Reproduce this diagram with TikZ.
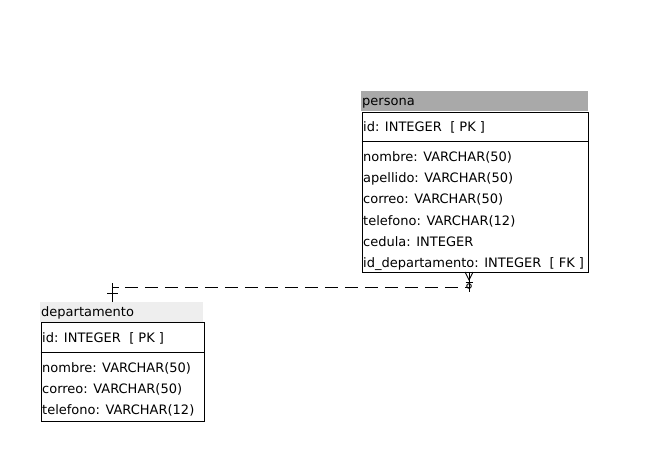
\documentclass[tikz,border=0pt]{standalone}
\usepackage{fontspec}
\setmainfont{DejaVu Sans}
\definecolor{hdrdark}{HTML}{A9A9A9}
\definecolor{hdrlight}{HTML}{EEEEEE}
\begin{document}
\begin{tikzpicture}[x=1pt,y=-1pt,
  hdr/.style={rectangle, inner sep=0pt, anchor=north west, draw=none, minimum height=20pt},
  body/.style={rectangle, draw=black, line width=0.9pt, inner sep=0pt, anchor=north west},
  txt/.style={anchor=base west, inner sep=0pt, font=\fontsize{13}{15}\selectfont},
  sep/.style={line width=0.9pt},
  rel/.style={line width=0.9pt},
  reldash/.style={line width=0.9pt, dash pattern=on 13pt off 7pt}]
\useasboundingbox[fill=white] (0,0) rectangle (671,471);

% persona
\node[hdr, fill=hdrdark, minimum width=227pt] (perHead) at (361,91) {};
\node[body, minimum width=226pt, minimum height=160pt] (perBody) at (361.5,112) {};
\coordinate (perSepY) at (0,141);
\draw[sep] (perBody.west |- perSepY) -- (perBody.east |- perSepY);
\node[txt] (perTitle) at (362,105.5) {persona};
\node[txt] (perPK) at (363,131.5) {id: INTEGER\ \ [ PK ]};
\node[txt] (perR1) at (363,161.5) {nombre: VARCHAR(50)};
\node[txt] (perR2) at (363,182.7) {apellido: VARCHAR(50)};
\node[txt] (perR3) at (363,203.9) {correo: VARCHAR(50)};
\node[txt] (perR4) at (363,225.1) {telefono: VARCHAR(12)};
\node[txt] (perR5) at (363,246.3) {cedula: INTEGER};
\node[txt] (perR6) at (363,267.5) {id\_departamento: INTEGER\ \ [ FK ]};

% departamento
\node[hdr, fill=hdrlight, minimum width=163pt] (depHead) at (40,302) {};
\node[body, minimum width=163pt, minimum height=99pt] (depBody) at (40.5,322) {};
\coordinate (depSepY) at (0,352);
\draw[sep] (depBody.west |- depSepY) -- (depBody.east |- depSepY);
\node[txt] (depTitle) at (41,316.5) {departamento};
\node[txt] (depPK) at (42,342.5) {id: INTEGER\ \ [ PK ]};
\node[txt] (depR1) at (42,372.5) {nombre: VARCHAR(50)};
\node[txt] (depR2) at (42,393.7) {correo: VARCHAR(50)};
\node[txt] (depR3) at (42,414.9) {telefono: VARCHAR(12)};

% relationship
\coordinate (depEnd) at (112.5,302);
\coordinate (depTop) at (112.5,283);
\coordinate (depBend) at (112.5,287);
\coordinate (perEnd) at (469,272);
\coordinate (perLow) at (469,292);
\coordinate (perBend) at (469,287);
% one (departamento side)
\draw[rel] (depEnd) -- (depTop);
\draw[rel] (107,293) -- (118,293);
\draw[rel] (depBend) -- (119,287);
\draw[reldash] (125,287) -- (465,287);
\draw[rel] (465,287) -- (perBend);
% zero-or-many (persona side)
\draw[rel] (perEnd) -- (perLow);
\draw[rel] (465,272) -- (469,280) -- (473,272);
\draw[rel] (465.5,282.5) -- (472.5,282.5);
\draw[rel] (469,286) circle (2.3pt);
\end{tikzpicture}
\end{document}
